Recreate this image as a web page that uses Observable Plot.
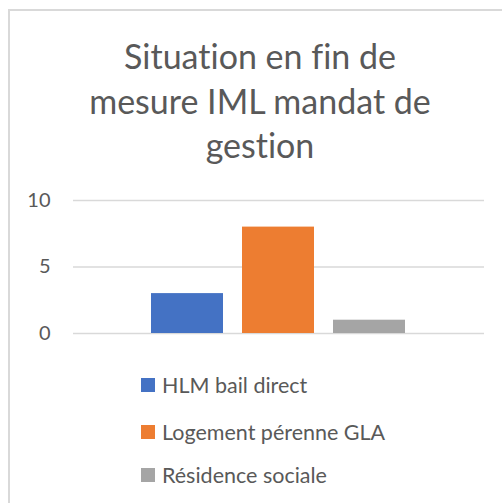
<!DOCTYPE html>
<html>
<head>
<meta charset="utf-8">
<script src="https://cdn.jsdelivr.net/npm/d3@7"></script>
<script src="https://cdn.jsdelivr.net/npm/@observablehq/plot@0.6"></script>
<style>
  html, body { margin: 0; padding: 0; background: #fff; }
  #wrap { position: relative; width: 502px; height: 503px; overflow: hidden; font-family: Lato, "Open Sans", sans-serif; color: #595959; font-variant-ligatures: none; }
  #frame { position: absolute; left: 8px; top: 9px; width: 700px; height: 700px; border: 2px solid #d9d9d9; box-sizing: border-box; }
  .tline { position: absolute; left: 0; width: 520px; text-align: center; font-size: 34px; white-space: nowrap; }
  #chart { position: absolute; left: 0; top: 180px; }
  #chart svg { font-variant-ligatures: none; }
  .leg { position: absolute; left: 141px; font-size: 21.5px; white-space: nowrap; display: flex; align-items: center; }
  .leg span.sw { display: inline-block; width: 14px; height: 14px; margin-right: 7px; }
</style>
</head>
<body>
<div id="wrap">
  <div id="frame"></div>
  <div id="title"></div>
  <div id="chart"></div>
  <div id="legend"></div>
</div>
<script>
const titleLines = ["Situation en fin de", "mesure IML mandat de", "gestion"];
const series = ["HLM bail direct", "Logement pérenne GLA", "Résidence sociale"];
const values = [3, 8, 1];
const colors = ["#4472C4", "#ED7D31", "#A5A5A5"];
const yTicks = [0, 5, 10];

const data = series.map((s, i) => ({series: s, value: values[i]}));

const titleTops = [35, 80, 124];
const titleEl = document.getElementById("title");
titleLines.forEach((t, i) => {
  const d = document.createElement("div");
  d.className = "tline";
  d.style.top = titleTops[i] + "px";
  d.textContent = t;
  titleEl.appendChild(d);
});

const chart = Plot.plot({
  width: 502,
  height: 170,
  marginTop: 20,
  marginBottom: 17,
  marginLeft: 73,
  marginRight: 18,
  style: {fontFamily: "Lato, 'Open Sans', sans-serif", fontSize: "20px", color: "#595959", background: "transparent"},
  x: {domain: series, range: [151, 405], paddingInner: 0.209, paddingOuter: 0, axis: null},
  y: {domain: [0, 10], ticks: yTicks, tickSize: 0, tickPadding: 23, label: null},
  color: {domain: series, range: colors},
  marks: [
    Plot.gridY(yTicks, {stroke: "#d9d9d9", strokeOpacity: 1, strokeWidth: 1.5}),
    Plot.barY(data, {x: "series", y: "value", fill: "series"})
  ]
});
document.getElementById("chart").appendChild(chart);

const legTops = [385, 432, 475];
const legEl = document.getElementById("legend");
series.forEach((s, i) => {
  const d = document.createElement("div");
  d.className = "leg";
  d.style.top = (legTops[i] - 13) + "px";
  d.style.height = "26px";
  const sw = document.createElement("span");
  sw.className = "sw";
  sw.style.background = colors[i];
  d.appendChild(sw);
  d.appendChild(document.createTextNode(s));
  legEl.appendChild(d);
});
</script>
</body>
</html>
